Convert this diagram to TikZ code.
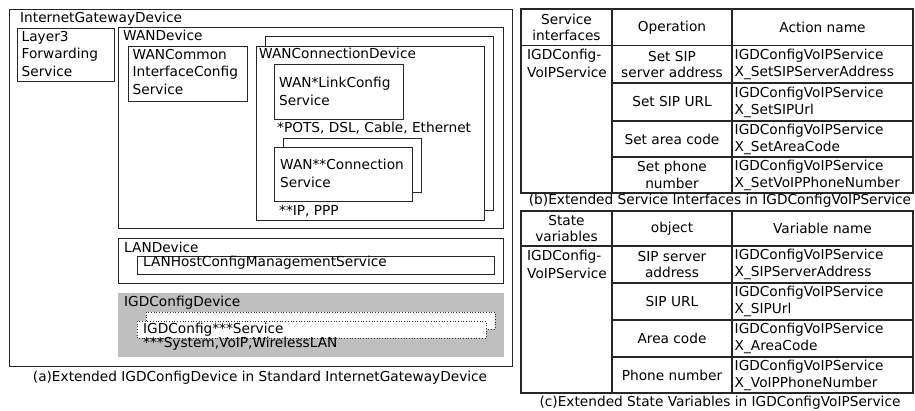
\documentclass[tikz,border=0pt]{standalone}
\usepackage{fontspec}
\setmainfont{DejaVu Sans}

\tikzset{
  box/.style={draw=black!85, line width=1pt},
  grid/.style={draw=black!85, line width=1.3pt},
  dots/.style={draw=black!80, dotted, line width=0.7pt, fill=white},
  txt/.style={inner sep=0pt, font=\fontsize{13.7}{17.5}\selectfont},
  lbl/.style={txt, anchor=base west},
  mlbl/.style={txt, anchor=north west, align=left},
  cell/.style={txt, anchor=center, align=center, font=\fontsize{13.7}{16.5}\selectfont},
  lcell/.style={txt, anchor=west, align=left, font=\fontsize{13.7}{17}\selectfont},
  capt/.style={txt, anchor=base}
}

\begin{document}
\begin{tikzpicture}[x=1pt, y=-1pt]
  \useasboundingbox (0,0) rectangle (915,410);

  % (a) InternetGatewayDevice
  \draw[box] (9,9) rectangle (512,366);
  \node[lbl] (igd) at (20,22.5) {InternetGatewayDevice};
  \draw[box] (17,28) rectangle (114,81);
  \node[mlbl] (layer3) at (21.5,31) {Layer3\\Forwarding\\Service};

  \draw[box] (118,27) rectangle (503,228);
  \node[lbl] (wandev) at (123,40) {WANDevice};
  \draw[box] (128,46) rectangle (247,101);
  \node[mlbl] (wancommon) at (132.5,49) {WANCommon\\InterfaceConfig\\Service};

  \draw[box] (265,36) rectangle (493,210);
  \draw[box, fill=white] (256,46) rectangle (484,220);
  \node[lbl] (wanconndev) at (259,58) {WANConnectionDevice};
  \draw[box] (274,64) rectangle (403,119);
  \node[mlbl] (wanlink) at (279,77) {WAN*LinkConfig\\Service};
  \node[lbl] (linknote) at (277,132.5) {*POTS, DSL, Cable, Ethernet};
  \draw[box] (283,138) rectangle (421,192);
  \draw[box, fill=white] (274,147) rectangle (412,201);
  \node[mlbl] (wanconn) at (280,159) {WAN**Connection\\Service};
  \node[lbl] (connnote) at (279,215) {**IP, PPP};

  \draw[box] (118,238) rectangle (503,283);
  \node[lbl] (landev) at (124,252.5) {LANDevice};
  \draw[box] (137,256) rectangle (494,274);
  \node[lbl] (lanhost) at (143,266.5) {LANHostConfigManagementService};

  \fill[black!25] (118,293) rectangle (504,357);
  \node[lbl] (igdcfgdev) at (124,306.5) {IGDConfigDevice};
  \draw[dots] (146,312) rectangle (495,329);
  \draw[dots] (137,321) rectangle (486,338);
  \node[lbl] (igdcfg) at (143,333) {IGDConfig***Service};
  \node[lbl] (cfgnote) at (143,347) {***System,VoIP,WirelessLAN};

  \node[capt] (capa) at (260,381.5) {(a)Extended IGDConfigDevice in Standard InternetGatewayDevice};

  % (b) service interfaces
  \draw[grid] (521,9) rectangle (913,193);
  \draw[grid] (521,45.5) -- (913,45.5);
  \draw[grid] (612,9) -- (612,193);
  \draw[grid] (732,9) -- (732,193);
  \draw[grid] (612,83) -- (913,83);
  \draw[grid] (612,121) -- (913,121);
  \draw[grid] (612,157) -- (913,157);
  \node[cell] (bh1) at (566.5,27.5) {Service\\interfaces};
  \node[cell] (bh2) at (672,27.5) {Operation};
  \node[cell] (bh3) at (822.5,27.5) {Action name};
  \node[mlbl] (bsvc) at (527,49) {IGDConfig-\\VoIPService};
  \node[cell] (bop1) at (672,64.5) {Set SIP\\server address};
  \node[cell] (bop2) at (672,102) {Set SIP URL};
  \node[cell] (bop3) at (672,139) {Set area code};
  \node[cell] (bop4) at (672,175) {Set phone\\number};
  \node[lcell] (bact1) at (734.5,64.5) {IGDConfigVoIPService\\X\_SetSIPServerAddress};
  \node[lcell] (bact2) at (734.5,102) {IGDConfigVoIPService\\X\_SetSIPUrl};
  \node[lcell] (bact3) at (734.5,139) {IGDConfigVoIPService\\X\_SetAreaCode};
  \node[lcell] (bact4) at (734.5,175) {IGDConfigVoIPService\\X\_SetVoIPPhoneNumber};
  \node[capt] (capb) at (720,204.5) {(b)Extended Service Interfaces in IGDConfigVoIPService};

  % (c) state variables
  \draw[grid] (521,211) rectangle (913,393);
  \draw[grid] (521,246) -- (913,246);
  \draw[grid] (612,211) -- (612,393);
  \draw[grid] (732,211) -- (732,393);
  \draw[grid] (612,283) -- (913,283);
  \draw[grid] (612,320) -- (913,320);
  \draw[grid] (612,357) -- (913,357);
  \node[cell] (ch1) at (566.5,228.5) {State\\variables};
  \node[cell] (ch2) at (672,228.5) {object};
  \node[cell] (ch3) at (822.5,228.5) {Variable name};
  \node[mlbl] (csvc) at (527,250) {IGDConfig-\\VoIPService};
  \node[cell] (cobj1) at (672,264.5) {SIP server\\address};
  \node[cell] (cobj2) at (672,301.5) {SIP URL};
  \node[cell] (cobj3) at (672,338.5) {Area code};
  \node[cell] (cobj4) at (672,375) {Phone number};
  \node[lcell] (cvar1) at (734.5,264.5) {IGDConfigVoIPService\\X\_SIPServerAddress};
  \node[lcell] (cvar2) at (734.5,301.5) {IGDConfigVoIPService\\X\_SIPUrl};
  \node[lcell] (cvar3) at (734.5,338.5) {IGDConfigVoIPService\\X\_AreaCode};
  \node[lcell] (cvar4) at (734.5,375) {IGDConfigVoIPService\\X\_VoIPPhoneNumber};
  \node[capt] (capc) at (720,406.5) {(c)Extended State Variables in IGDConfigVoIPService};
\end{tikzpicture}
\end{document}
